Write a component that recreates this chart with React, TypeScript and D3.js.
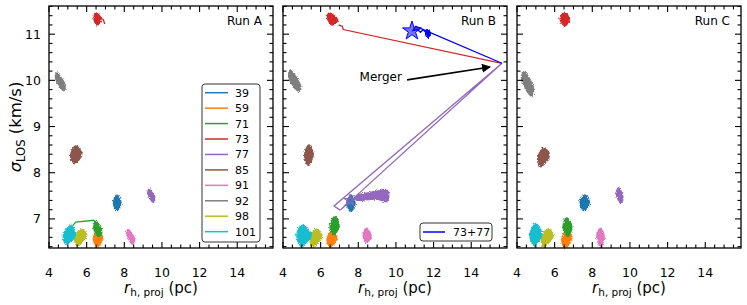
import * as d3 from 'd3';

type Pt = [number, number];

const W = 747;
const H = 305;

// cluster ids and their colours (matplotlib tab10 order)
const ids = ['39', '59', '71', '73', '77', '85', '91', '92', '98', '101'];
const palette = d3.schemeCategory10;
const mergedLabel = '73+77';
const mergedColor = '#0000ff';
const runs = ['Run A', 'Run B', 'Run C'];

const xDomain: Pt = [4, 15.9];
const yDomain: Pt = [6.37, 11.61];
const xMajor = [4, 6, 8, 10, 12, 14];
const yMajor = [7, 8, 9, 10, 11];

// outline of each cluster: top, right, bottom, left (r_h, sigma)
const blobsA: [string, Pt[]][] = [
  ['39', [[7.6, 7.52], [7.82, 7.36], [7.62, 7.18], [7.43, 7.34]]],
  ['59', [[6.6, 6.75], [6.85, 6.58], [6.55, 6.4], [6.36, 6.58]]],
  ['71', [[6.5, 6.95], [6.8, 6.72], [6.65, 6.62], [6.38, 6.8]]],
  ['73', [[6.5, 11.46], [6.76, 11.33], [6.55, 11.2], [6.39, 11.34]]],
  ['77', [[9.32, 7.64], [9.62, 7.45], [9.52, 7.37], [9.25, 7.55]]],
  ['85', [[5.42, 8.58], [5.74, 8.4], [5.35, 8.2], [5.15, 8.38]]],
  ['91', [[8.2, 6.77], [8.55, 6.55], [8.45, 6.45], [8.12, 6.68]]],
  ['92', [[4.4, 10.16], [4.85, 9.9], [4.78, 9.78], [4.35, 10.05]]],
  ['98', [[5.7, 6.77], [6.0, 6.66], [5.5, 6.42], [5.36, 6.6]]],
  ['101', [[5.2, 6.86], [5.4, 6.65], [4.9, 6.45], [4.77, 6.66]]],
];

const blobsB: [string, Pt[]][] = [
  ['39', [[7.6, 7.52], [7.83, 7.33], [7.6, 7.16], [7.4, 7.36]]],
  ['59', [[6.6, 6.73], [6.87, 6.57], [6.5, 6.4], [6.34, 6.56]]],
  ['71', [[6.75, 7.05], [6.98, 6.85], [6.7, 6.66], [6.5, 6.82]]],
  ['73', [[6.45, 11.46], [6.9, 11.3], [6.6, 11.2], [6.36, 11.36]]],
  ['77', [[7.9, 7.5], [8.5, 7.56], [9.0, 7.6], [9.5, 7.63], [9.62, 7.5], [9.5, 7.38], [9.0, 7.43], [8.5, 7.42], [7.9, 7.41]]],
  ['85', [[5.38, 8.6], [5.6, 8.4], [5.35, 8.16], [5.15, 8.38]]],
  ['91', [[8.45, 6.8], [8.68, 6.62], [8.45, 6.48], [8.26, 6.64]]],
  ['92', [[4.38, 10.22], [4.95, 9.85], [4.85, 9.76], [4.32, 10.05]]],
  ['98', [[5.75, 6.78], [6.07, 6.62], [5.55, 6.4], [5.44, 6.62]]],
  ['101', [[5.0, 6.86], [5.5, 6.65], [4.95, 6.42], [4.74, 6.65]]],
  [mergedLabel, [[11.65, 11.1], [11.82, 11.02], [11.7, 10.93], [11.58, 11.0]]],
];

const blobsC: [string, Pt[]][] = [
  ['39', [[7.6, 7.52], [7.85, 7.35], [7.55, 7.18], [7.35, 7.38]]],
  ['59', [[6.65, 6.76], [6.91, 6.6], [6.55, 6.37], [6.38, 6.55]]],
  ['71', [[6.65, 7.02], [6.91, 6.83], [6.7, 6.62], [6.45, 6.82]]],
  ['73', [[6.52, 11.47], [6.78, 11.33], [6.55, 11.18], [6.29, 11.33]]],
  ['77', [[9.4, 7.67], [9.62, 7.47], [9.52, 7.34], [9.27, 7.55]]],
  ['85', [[5.45, 8.53], [5.72, 8.38], [5.25, 8.13], [5.1, 8.33]]],
  ['91', [[8.45, 6.8], [8.63, 6.6], [8.45, 6.41], [8.24, 6.62]]],
  ['92', [[4.35, 10.19], [4.87, 9.85], [4.8, 9.65], [4.25, 10.0]]],
  ['98', [[5.65, 6.78], [5.93, 6.65], [5.4, 6.4], [5.31, 6.6]]],
  ['101', [[5.0, 6.9], [5.31, 6.65], [4.9, 6.43], [4.69, 6.65]]],
];

// thin trajectory segments
const tracksA: [string, Pt[]][] = [
  ['71', [[5.25, 6.85], [5.42, 6.93], [6.38, 6.97], [6.52, 6.88]]],
  ['73', [[6.72, 11.35], [6.88, 11.32], [6.96, 11.22]]],
];
const tracksB: [string, Pt[]][] = [
  ['73', [[6.95, 11.2], [7.15, 11.17], [7.2, 11.1], [15.63, 10.37]]],
  ['77', [[7.95, 7.45], [7.5, 7.38], [7.05, 7.19], [15.63, 10.37], [6.71, 7.28], [7.03, 7.19]]],
  [mergedLabel, [[15.63, 10.37], [11.05, 11.17], [10.9, 11.08], [11.15, 11.1], [11.3, 11.04], [11.45, 11.1], [11.62, 11.02]]],
];
const tracksC: [string, Pt[]][] = [];

const starsB: [string, Pt][] = [
  [mergedLabel, [10.85, 11.07]],
  ['77', [7.56, 7.4]],
];

const mergerText: Pt = [10.32, 9.99];
const arrowTail: Pt = [10.59, 10.01];
const arrowTip: Pt = [15.0, 10.29];

const panelData = [
  { blobs: blobsA, tracks: tracksA, stars: [] as [string, Pt][] },
  { blobs: blobsB, tracks: tracksB, stars: starsB },
  { blobs: blobsC, tracks: tracksC, stars: [] as [string, Pt][] },
];

const colorOf = (id: string) => (id === mergedLabel ? mergedColor : palette[ids.indexOf(id)]);

const font = '"DejaVu Sans", sans-serif';
const left0 = 49;
const top0 = 6;
const PW = 224;
const PH = 242;
const GAP = 10;

const range = (a: number, b: number, s: number) => {
  const out: number[] = [];
  for (let v = a; v <= b + 1e-9; v += s) out.push(+v.toFixed(2));
  return out;
};

export default function App() {
  const x = d3.scaleLinear().domain(xDomain).range([0, PW]);
  const y = d3.scaleLinear().domain(yDomain).range([PH, 0]);
  const xMinor = range(4, 15.5, 0.5).filter(v => !xMajor.includes(v));
  const yMinor = range(6.4, 11.6, 0.2).filter(v => !yMajor.some(m => Math.abs(m - v) < 1e-6));

  const blobLine = d3.line<Pt>().x(d => x(d[0])).y(d => y(d[1])).curve(d3.curveCatmullRomClosed.alpha(0.5));
  const trackLine = d3.line<Pt>().x(d => x(d[0])).y(d => y(d[1]));
  const star = (size: number) => d3.symbol().type(d3.symbolStar).size(size)() as string;

  const tickEls = () => {
    const els: JSX.Element[] = [];
    const add = (v: number, len: number, axis: 'x' | 'y', key: string) => {
      if (axis === 'x') {
        const p = x(v);
        els.push(<line key={key + 'b'} x1={p} x2={p} y1={PH} y2={PH - len} stroke="#000" strokeWidth={1.1} />);
        els.push(<line key={key + 't'} x1={p} x2={p} y1={0} y2={len} stroke="#000" strokeWidth={1.1} />);
      } else {
        const p = y(v);
        els.push(<line key={key + 'l'} x1={0} x2={len} y1={p} y2={p} stroke="#000" strokeWidth={1.1} />);
        els.push(<line key={key + 'r'} x1={PW} x2={PW - len} y1={p} y2={p} stroke="#000" strokeWidth={1.1} />);
      }
    };
    xMajor.forEach(v => add(v, 6, 'x', 'xM' + v));
    xMinor.forEach(v => add(v, 3.5, 'x', 'xm' + v));
    yMajor.forEach(v => add(v, 6, 'y', 'yM' + v));
    yMinor.forEach(v => add(v, 3.5, 'y', 'ym' + v));
    return els;
  };

  return (
    <svg width={W} height={H} style={{ position: 'absolute', left: 0, top: 0, background: '#fff' }} fontFamily={font}>
      <defs>
        <filter id="rough" x="-30%" y="-30%" width="160%" height="160%">
          <feTurbulence type="fractalNoise" baseFrequency="0.8" numOctaves={2} seed={4} result="noise" />
          <feDisplacementMap in="SourceGraphic" in2="noise" scale={3.5} xChannelSelector="R" yChannelSelector="G" />
        </filter>
        <marker id="arrowHead" viewBox="0 0 10 10" refX="9" refY="5" markerWidth="9" markerHeight="9" orient="auto" markerUnits="userSpaceOnUse">
          <path d="M0,0 L10,5 L0,10 z" fill="#000" />
        </marker>
      </defs>

      {/* y axis label */}
      <text transform={`translate(21,${top0 + PH / 2}) rotate(-90)`} textAnchor="middle" fontSize={16.5}>
        <tspan fontStyle="italic">σ</tspan>
        <tspan fontSize={11.5} dy={3.5}>LOS</tspan>
        <tspan dy={-3.5}> (km/s)</tspan>
      </text>

      {panelData.map((pd, i) => {
        const ox = left0 + i * (PW + GAP);
        return (
          <g key={runs[i]} transform={`translate(${ox},${top0})`}>
            <rect x={0} y={0} width={PW} height={PH} fill="#fff" />
            {pd.tracks.map(([id, pts], k) => (
              <path key={'t' + k} d={trackLine(pts) as string} fill="none" stroke={colorOf(id)} strokeWidth={1.3} />
            ))}
            <g filter="url(#rough)">
              {pd.blobs.map(([id, pts], k) => (
                <path key={'b' + k} d={blobLine(pts) as string} fill={colorOf(id)} stroke={colorOf(id)} strokeWidth={1.5} />
              ))}
            </g>
            {pd.stars.map(([id, p], k) => (
              <path
                key={'s' + k}
                d={star(id === mergedLabel ? 110 : 45)}
                transform={`translate(${x(p[0])},${y(p[1])})`}
                fill={colorOf(id)}
                fillOpacity={0.55}
                stroke={colorOf(id)}
                strokeWidth={1}
              />
            ))}

            {tickEls()}
            <rect x={0} y={0} width={PW} height={PH} fill="none" stroke="#000" strokeWidth={1.3} />

            {xMajor.map(v => (
              <text key={'xl' + v} x={x(v)} y={PH + 29} textAnchor="middle" fontSize={12.5}>{v}</text>
            ))}
            {i === 0 && yMajor.map(v => (
              <text key={'yl' + v} x={-8} y={y(v)} dy="0.36em" textAnchor="end" fontSize={12.5}>{v}</text>
            ))}
            <text x={PW / 2} y={PH + 45} textAnchor="middle" fontSize={15}>
              <tspan fontStyle="italic">r</tspan>
              <tspan fontSize={10.5} dy={3}>h, proj</tspan>
              <tspan dy={-3}> (pc)</tspan>
            </text>
            <text x={PW - 11} y={19} textAnchor="end" fontSize={12}>{runs[i]}</text>

            {i === 0 && (
              <g>
                <rect x={153} y={78} width={58} height={158} rx={3} fill="#fff" fillOpacity={0.85} stroke="#333" strokeWidth={1} />
                {ids.map((id, k) => (
                  <g key={'lg' + id} transform={`translate(0,${86.7 + k * 15.44})`}>
                    <line x1={156} x2={179} y1={0} y2={0} stroke={colorOf(id)} strokeWidth={1.5} />
                    <text x={186} y={0} dy="0.36em" fontSize={11}>{id}</text>
                  </g>
                ))}
              </g>
            )}

            {i === 1 && (
              <g>
                <rect x={137} y={217} width={72} height={18} rx={3} fill="#fff" fillOpacity={0.85} stroke="#333" strokeWidth={1} />
                <line x1={140} x2={162} y1={226} y2={226} stroke={mergedColor} strokeWidth={1.5} />
                <text x={170} y={226} dy="0.36em" fontSize={11}>{mergedLabel}</text>
                <line
                  x1={x(arrowTail[0])}
                  y1={y(arrowTail[1])}
                  x2={x(arrowTip[0])}
                  y2={y(arrowTip[1])}
                  stroke="#000"
                  strokeWidth={1.6}
                  markerEnd="url(#arrowHead)"
                />
                <text x={x(mergerText[0])} y={y(mergerText[1])} textAnchor="end" fontSize={12}>Merger</text>
              </g>
            )}
          </g>
        );
      })}
    </svg>
  );
}
